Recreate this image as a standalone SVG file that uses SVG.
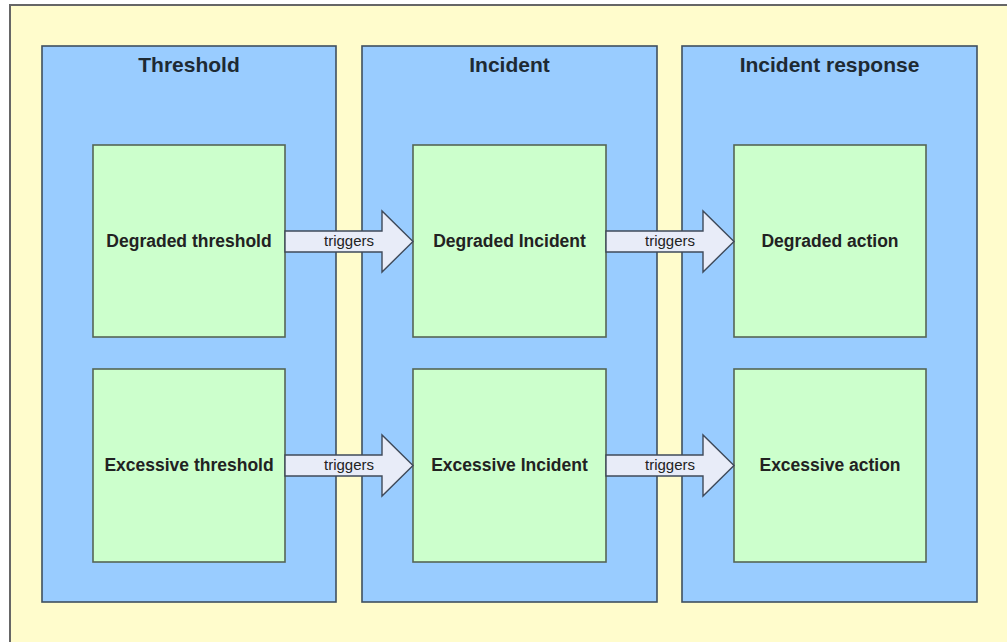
<svg xmlns="http://www.w3.org/2000/svg" width="1007" height="642" viewBox="0 0 1007 642">
  <defs>
    <style>
      .bg { fill: #FFFCCC; stroke: #666; stroke-width: 2; }
      .panel { fill: #99CCFF; stroke: #3F4F5F; stroke-width: 1.6; }
      .box { fill: #CCFFCC; stroke: #556655; stroke-width: 1.6; }
      .arrow { fill: #E8ECF8; stroke: #3F4A5A; stroke-width: 1.4; stroke-linejoin: miter; }
      .title { font-family: "Liberation Sans", Arial, sans-serif; font-weight: bold; font-size: 21px; fill: #1E2A33; text-anchor: middle; }
      .label { font-family: "Liberation Sans", Arial, sans-serif; font-weight: bold; font-size: 17.5px; fill: #222; text-anchor: middle; }
      .conn { font-family: "Liberation Sans", Arial, sans-serif; font-size: 15px; fill: #222; text-anchor: middle; }
    </style>
  </defs>
  <rect x="10" y="5" width="1010" height="650" class="bg"/>

  <g id="panel-threshold">
    <rect x="42" y="46" width="294" height="556" class="panel"/>
    <text x="189" y="72" class="title">Threshold</text>
  </g>
  <g id="panel-incident">
    <rect x="362" y="46" width="295" height="556" class="panel"/>
    <text x="509.5" y="72" class="title">Incident</text>
  </g>
  <g id="panel-response">
    <rect x="682" y="46" width="295" height="556" class="panel"/>
    <text x="829.5" y="72" class="title">Incident response</text>
  </g>

  <g id="degraded-threshold">
    <rect x="93" y="145" width="192" height="192" class="box"/>
    <text x="189" y="247" class="label">Degraded threshold</text>
  </g>
  <g id="excessive-threshold">
    <rect x="93" y="369" width="192" height="193" class="box"/>
    <text x="189" y="471" class="label">Excessive threshold</text>
  </g>
  <g id="degraded-incident">
    <rect x="413" y="145" width="193" height="192" class="box"/>
    <text x="509.5" y="247" class="label">Degraded Incident</text>
  </g>
  <g id="excessive-incident">
    <rect x="413" y="369" width="193" height="193" class="box"/>
    <text x="509.5" y="471" class="label">Excessive Incident</text>
  </g>
  <g id="degraded-action">
    <rect x="734" y="145" width="192" height="192" class="box"/>
    <text x="830" y="247" class="label">Degraded action</text>
  </g>
  <g id="excessive-action">
    <rect x="734" y="369" width="192" height="193" class="box"/>
    <text x="830" y="471" class="label">Excessive action</text>
  </g>

  <g id="connectors">
    <path class="arrow" d="M285,231 H382 V211 L413,241.5 L382,272 V252 H285 Z"/>
    <text x="349" y="246" class="conn">triggers</text>
    <path class="arrow" d="M606,231 H703 V211 L734,241.5 L703,272 V252 H606 Z"/>
    <text x="670" y="246" class="conn">triggers</text>
    <path class="arrow" d="M285,455 H382 V435 L413,465.5 L382,496 V476 H285 Z"/>
    <text x="349" y="470" class="conn">triggers</text>
    <path class="arrow" d="M606,455 H703 V435 L734,465.5 L703,496 V476 H606 Z"/>
    <text x="670" y="470" class="conn">triggers</text>
  </g>
</svg>
